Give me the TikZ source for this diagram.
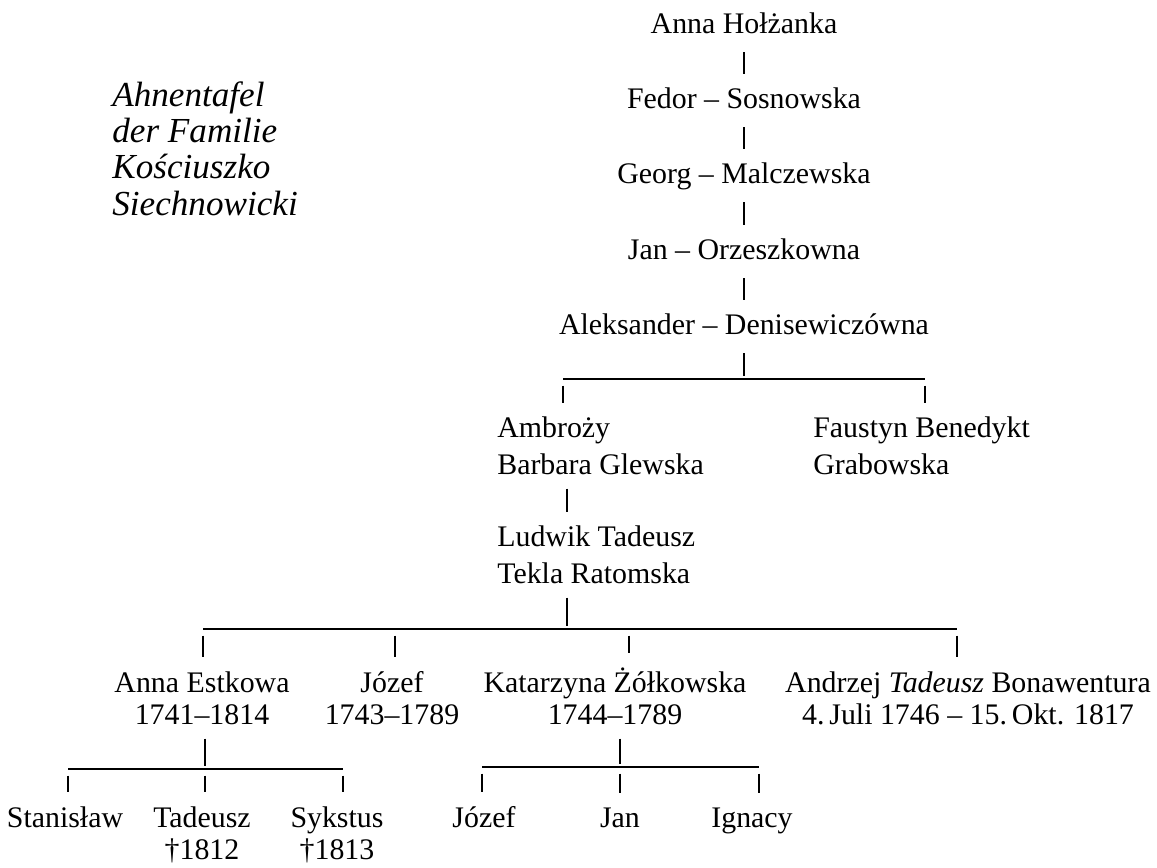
\documentclass[tikz,border=0pt]{standalone}
\usepackage{fontspec}
\setmainfont{Liberation Serif}
\usetikzlibrary{calc}
\tikzset{
  nm/.style={anchor=base,font=\fontsize{17}{20.5}\selectfont,inner xsep=0pt,inner ysep=0.28cm,text height=0.4cm,text depth=0.1cm},
  nb/.style={font=\fontsize{17}{20.5}\selectfont,inner xsep=0pt,inner ysep=0.28cm,anchor=base west,align=left},
  nc/.style={font=\fontsize{17}{18.2}\selectfont,inner xsep=0pt,inner ysep=0.28cm,anchor=base,align=center},
  tk/.style={line width=1.1pt},
  dr/.style={line width=1.1pt,shorten <=0.13cm},
  bar/.style={line width=1.2pt},
}

\begin{document}
\begin{tikzpicture}[x=0.02cm,y=-0.02cm]
\useasboundingbox (0,0) rectangle (1157,867);
\node[anchor=base west,align=left,inner sep=0pt,font=\fontsize{20}{20.5}\selectfont\itshape] (titel) at (112,215) {Ahnentafel\\der Familie\\Kościuszko\\Siechnowicki};
\node[nm] (anna) at (744,33) {Anna Hołżanka}; \node[nm] (fedor) at (744,108) {Fedor – Sosnowska};
\node[nm] (georg) at (744,183) {Georg – Malczewska}; \node[nm] (jan) at (744,259) {Jan – Orzeszkowna};
\node[nm] (aleks) at (744,334) {Aleksander – Denisewiczówna};
\node[nb] (ambro) at (497,474) {Ambroży\\Barbara Glewska}; \node[nb] (faust) at (813,474) {Faustyn Benedykt\\Grabowska};
\node[nb] (ludwik) at (497,583) {Ludwik Tadeusz\\Tekla Ratomska};
\node[nc] (estk) at (202,724) {Anna Estkowa\\1741–1814}; \node[nc] (jozef) at (392,724) {Józef\\1743–1789};
\node[nc] (kat) at (615,724) {Katarzyna Żółkowska\\1744–1789};
\node[nc] (andrz) at (968,724) {Andrzej \textit{Tadeusz} Bonawentura\\4.\,Juli 1746 – 15.\,Okt. 1817};
\node[nc] (stan) at (65,827) {Stanisław}; \node[nc] (tad) at (202,859) {Tadeusz\\†1812};
\node[nc] (syk) at (337,859) {Sykstus\\†1813}; \node[nc] (jozefb) at (484,827) {Józef};
\node[nc] (janb) at (620,827) {Jan}; \node[nc] (ign) at (752,827) {Ignacy};
\coordinate (b1l) at (563,379); \coordinate (b1m) at (744,379); \coordinate (b1r) at (925,379);
\coordinate (b2l) at (203,629); \coordinate (b2a) at (395,629); \coordinate (b2m) at (567,629);
\coordinate (b2b) at (629,629); \coordinate (b2r) at (957,629);
\coordinate (b3l) at (68,769); \coordinate (b3m) at (205,769); \coordinate (b3r) at (343,769);
\coordinate (b4l) at (482,767); \coordinate (b4m) at (620,767); \coordinate (b4r) at (759,767);
\draw[tk] (anna) -- (fedor); \draw[tk] (fedor) -- (georg); \draw[tk] (georg) -- (jan); \draw[tk] (jan) -- (aleks);
\draw[tk,shorten >=1.5pt] (aleks) -- (b1m); \draw[bar] (b1l) -- (b1r);
\draw[dr] (b1l) -- (b1l |- ambro.north); \draw[dr] (b1r) -- (b1r |- faust.north);
\draw[tk] (ambro.south -| b2m) -- (ludwik.north -| b2m); \draw[tk,shorten >=1.5pt] (ludwik.south -| b2m) -- (b2m);
\draw[bar] (b2l) -- (b2r);
\draw[dr] (b2l) -- (b2l |- estk.north); \draw[dr] (b2a) -- (b2a |- jozef.north);
\draw[dr] (b2b) -- (b2b |- kat.north); \draw[dr] (b2r) -- (b2r |- andrz.north);
\draw[tk,shorten >=1.5pt] (estk.south -| b3m) -- (b3m); \draw[bar] (b3l) -- (b3r);
\draw[dr] (b3l) -- (b3l |- stan.north); \draw[dr] (b3m) -- (b3m |- tad.north); \draw[dr] (b3r) -- (b3r |- syk.north);
\draw[tk,shorten >=1.5pt] (kat.south -| b4m) -- (b4m); \draw[bar] (b4l) -- (b4r);
\draw[dr] (b4l) -- (b4l |- jozefb.north); \draw[dr] (b4m) -- (b4m |- janb.north); \draw[dr] (b4r) -- (b4r |- ign.north);
\end{tikzpicture}
\end{document}
